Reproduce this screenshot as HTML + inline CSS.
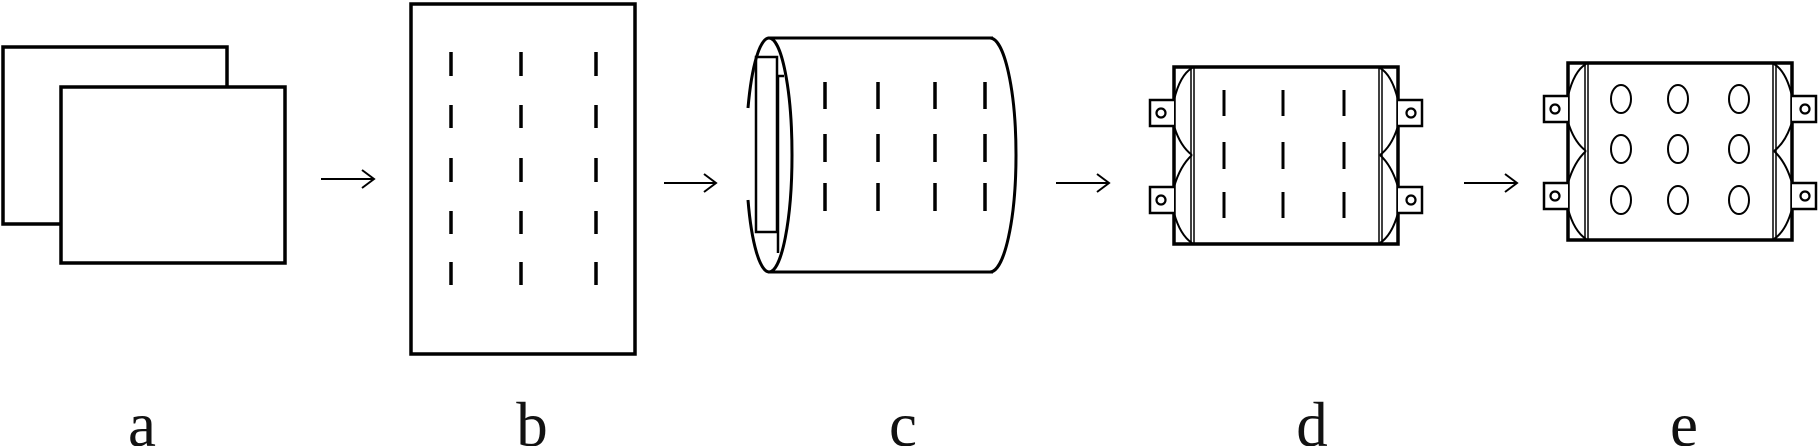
<!DOCTYPE html>
<html><head><meta charset="utf-8"><style>
html,body{margin:0;padding:0;background:#fff;}
svg{display:block;}
text{font-family:"Liberation Serif",serif;font-size:63px;fill:#111;}
</style></head><body>
<svg width="1819" height="446" viewBox="0 0 1819 446" xmlns="http://www.w3.org/2000/svg">
<g fill="none" stroke="#000">
<rect x="3" y="47" width="224" height="177" stroke-width="3.5"/>
<rect x="61" y="87" width="224" height="176" stroke-width="3.5" fill="#fff"/>
<g stroke-width="2">
<path d="M321,179 H374 M362,170 L374,179 L362,188"/>
<path d="M664,183 H716 M704,174 L716,183 L704,192"/>
<path d="M1056,183 H1109 M1097,174 L1109,183 L1097,192"/>
<path d="M1464,183 H1517 M1505,174 L1517,183 L1505,192"/>
</g>
<rect x="411" y="4" width="224" height="350" stroke-width="3.5"/>
<g stroke-width="3.5">
<path d="M451,52V76 M521,52V76 M596,52V76
M451,105V128 M521,105V128 M596,105V128
M451,158V182 M521,158V182 M596,158V182
M451,211V234 M521,211V234 M596,211V234
M451,262V285 M521,262V285 M596,262V285"/>
</g>
<g stroke-width="3">
<path d="M768,38 H993 M768,272 H993"/>
<path d="M990,38 A26,117 0 0 1 990,272"/>
<path d="M769,38 A23,117 0 0 1 769,272"/>
<path d="M769,38 A23,117 0 0 0 748,108"/>
<path d="M748,200 A23,117 0 0 0 769,272"/>
<rect x="756" y="57" width="21" height="175" stroke-width="2.5"/>
<path d="M784,76 H778 V253" stroke-width="2.5"/>
</g>
<g stroke-width="3.5">
<path d="M825,82V109 M878,82V109 M935,82V109 M985,82V109
M825,134V162 M878,134V162 M935,134V162 M985,134V162
M825,183V211 M878,183V211 M935,183V211 M985,183V211"/>
</g>
<g id="frame">
<rect x="1174" y="67" width="224" height="177" stroke-width="3.5"/>
<path d="M1191,67V244 M1194,67V244 M1379,67V244 M1382,67V244" stroke-width="1.5"/>
<g id="side">
<path d="M1174,100 H1150 V126 H1174 M1174,187 H1150 V213 H1174" stroke-width="2.5" fill="#fff"/>
<circle cx="1161" cy="113" r="4.5" stroke-width="2.2"/>
<circle cx="1161" cy="200" r="4.5" stroke-width="2.2"/>
<path d="M1174,100 Q1180,75 1192,68 M1174,126 Q1180,146 1192,155 M1192,155 Q1180,166 1174,187 M1174,213 Q1180,235 1192,243" stroke-width="2"/>
</g>
<use href="#side" transform="translate(2572,0) scale(-1,1)"/>
</g>
<g stroke-width="3">
<path d="M1224,90V116 M1283,90V116 M1344,90V116
M1224,142V169 M1283,142V169 M1344,142V169
M1224,192V218 M1283,192V218 M1344,192V218"/>
</g>
<use href="#frame" transform="translate(394,-4)"/>
<g stroke-width="2">
<ellipse cx="1621" cy="99" rx="10" ry="14"/><ellipse cx="1678" cy="99" rx="10" ry="14"/><ellipse cx="1739" cy="99" rx="10" ry="14"/>
<ellipse cx="1621" cy="149" rx="10" ry="14"/><ellipse cx="1678" cy="149" rx="10" ry="14"/><ellipse cx="1739" cy="149" rx="10" ry="14"/>
<ellipse cx="1621" cy="200" rx="10" ry="14"/><ellipse cx="1678" cy="200" rx="10" ry="14"/><ellipse cx="1739" cy="200" rx="10" ry="14"/>
</g>
</g>
<text x="142" y="446" text-anchor="middle">a</text>
<text x="532" y="446" text-anchor="middle">b</text>
<text x="903" y="446" text-anchor="middle">c</text>
<text x="1312" y="446" text-anchor="middle">d</text>
<text x="1684" y="446" text-anchor="middle">e</text>
</svg>
</body></html>
